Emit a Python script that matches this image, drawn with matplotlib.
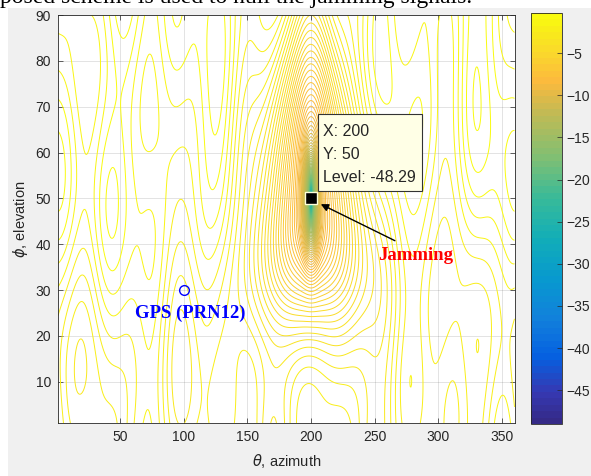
import numpy as np
import matplotlib
matplotlib.use('Agg')
import matplotlib.pyplot as plt
from matplotlib.colors import LinearSegmentedColormap, Normalize
from matplotlib.cm import ScalarMappable
from matplotlib.patches import Rectangle
from matplotlib.transforms import ScaledTranslation

plt.rcParams['font.family'] = ['Liberation Sans', 'DejaVu Sans']
plt.rcParams['mathtext.fontset'] = 'dejavusans'

# ---- data ----
theta = np.arange(1, 360.01, 0.5)      # azimuth, deg
phi = np.arange(1, 90.01, 0.5)         # elevation, deg

jam_theta, jam_phi, jam_level = 200, 50, -48.29
gps_theta, gps_phi = 100, 30

# broad dip around the jammer
broad_floor_db = -9.5
broad_w_theta = 54.0
broad_w_slope = 0.7
broad_w_phi_up = 55.0
broad_w_phi_down = 36.0
# deep, narrow notch at the jammer
notch_w_theta = 6.0
notch_w_phi = 12.0

# residual ripple of the pattern (dB, cycles/360 az, cycles/90 el, phase)
rip_amp = [0.38, 0.27, 0.24, 0.22, 0.06]
rip_ftheta = [5, 9, 3, 1, 11]
rip_fphi = [0.3, -0.5, 1.0, 1.5, 0.8]
rip_phase = [0.4, 1.3, 2.0, 0.7, 2.5]
horizon_loss = 1.1

levels = np.arange(-48.0, 0.0, 0.3)
clim = (-49.0, -0.25)
cbar_ticks = [-45, -40, -35, -30, -25, -20, -15, -10, -5]
x_ticks = [50, 100, 150, 200, 250, 300, 350]
y_ticks = [10, 20, 30, 40, 50, 60, 70, 80, 90]

# parula-like colormap
parula_anchors = [
    (0.208, 0.166, 0.529), (0.21, 0.22, 0.70), (0.02, 0.38, 0.88),
    (0.07, 0.50, 0.86), (0.03, 0.60, 0.81), (0.07, 0.68, 0.72),
    (0.22, 0.73, 0.60), (0.50, 0.75, 0.45), (0.76, 0.73, 0.33),
    (0.99, 0.73, 0.24), (0.979, 0.839, 0.177), (0.976, 0.983, 0.054),
]
parula_pos = [0.0, 0.07, 0.16, 0.25, 0.35, 0.45, 0.55, 0.65, 0.76, 0.84, 0.905, 1.0]
cmap = LinearSegmentedColormap.from_list('parula', list(zip(parula_pos, parula_anchors)), N=64)
norm = Normalize(*clim)


def dip_db(r2, floor_db):
    fl = 10 ** (floor_db / 10)
    return 10 * np.log10(fl + (1 - fl) * (1 - np.exp(-r2)))


# ---- field ----
T, P = np.meshgrid(theta, phi)
dT = T - jam_theta
dP = P - jam_phi
w_t = np.clip(broad_w_theta - broad_w_slope * dP, 10, None)
w_p = np.where(dP > 0, broad_w_phi_up, broad_w_phi_down)
r2_broad = (dT / w_t) ** 2 + np.abs(dP / w_p) ** 3
r2_notch = (dT / notch_w_theta) ** 2 + (dP / notch_w_phi) ** 2
null_db = dip_db(r2_broad, broad_floor_db) + dip_db(r2_notch, jam_level - broad_floor_db)

bg = np.zeros_like(T)
for a, ft, fp, ph in zip(rip_amp, rip_ftheta, rip_fphi, rip_phase):
    bg += a * np.cos(2 * np.pi * (ft * T / 360 + fp * P / 90) + ph)
bg -= horizon_loss * np.cos(np.radians(P)) ** 4
bg = bg - bg.max() - 0.25
Z = null_db + bg * (1 - np.exp(-r2_broad))

# ---- figure ----
fig = plt.figure(figsize=(5.91, 4.76), dpi=100, facecolor='white')
fig.patches.append(Rectangle((8 / 591, 0), 1, 1 - 8 / 476, transform=fig.transFigure,
                             facecolor='#f0f0f0', edgecolor='none', zorder=-10))
fig.text(0.0, 1 - 3.5 / 476, 'posed scheme is used to null the jamming signals.',
         family='Liberation Serif', fontsize=17, va='baseline', ha='left')

ax = fig.add_axes([58 / 591, 53 / 476, 456.5 / 591, 408 / 476])
ax.set_facecolor('white')
ax.contour(T, P, Z, levels=levels, cmap=cmap, norm=norm, linewidths=0.7)

ax.set_xlim(1, 360)
ax.set_ylim(1, 90)
ax.set_xticks(x_ticks)
ax.set_yticks(y_ticks)
ax.grid(True, color=(0.15, 0.15, 0.15), alpha=0.15, linewidth=0.6)
ax.tick_params(direction='in', length=3.5, width=0.5, top=True, right=True,
               labelsize=10, labelcolor=(0.15, 0.15, 0.15), color=(0.15, 0.15, 0.15), pad=5)
for s in ax.spines.values():
    s.set_color((0.15, 0.15, 0.15))
    s.set_linewidth(0.6)
ax.set_xlabel(r'$\theta$, azimuth', fontsize=10.5, color=(0.15, 0.15, 0.15), labelpad=6)
ax.set_ylabel(r'$\phi$, elevation', fontsize=10.5, color=(0.15, 0.15, 0.15), labelpad=4)

# GPS satellite
ax.plot(gps_theta, gps_phi, 'o', mfc='none', mec='blue', ms=7, mew=1)
ax.text(104.9, 25.0, 'GPS (PRN12)', color='blue', weight='bold',
        family='Liberation Serif', fontsize=13.5, ha='center', va='center')

# jammer + data tip (box placed in pixel offsets from the marker)
ax.plot(jam_theta, jam_phi, 's', color='black', mec=(1, 1, 0.85), ms=9, mew=1, zorder=11)
tip = fig.dpi_scale_trans + ScaledTranslation(jam_theta, jam_phi, ax.transData)
ax.add_patch(Rectangle((0.07, 0.07), 1.04, 0.77, transform=tip, facecolor=(1, 1, 0.9),
                       edgecolor=(0.2, 0.2, 0.2), lw=0.8, zorder=12, clip_on=False))
ax.text(0.12, 0.44, 'X: %d\nY: %d\nLevel: %.2f' % (jam_theta, jam_phi, jam_level),
        transform=tip, ha='left', va='center', fontsize=11.5, linespacing=1.64,
        color=(0.15, 0.15, 0.15), zorder=13)
ax.annotate('', xy=(205.7, 49.0), xytext=(267.9, 40.5),
            arrowprops=dict(arrowstyle='-|>', color='black', lw=1, mutation_scale=11),
            zorder=12)
ax.text(282.0, 37.6, 'Jamming', color='red', weight='bold',
        family='Liberation Serif', fontsize=13.5, ha='center', va='center')

# colorbar
cax = fig.add_axes([531 / 591, 52 / 476, 31 / 591, 411 / 476])
cb = fig.colorbar(ScalarMappable(norm=norm, cmap=cmap), cax=cax, ticks=cbar_ticks)
cb.outline.set_edgecolor((0.15, 0.15, 0.15))
cb.outline.set_linewidth(0.6)
cax.tick_params(direction='in', length=3.5, width=0.5, labelsize=10,
                labelcolor=(0.15, 0.15, 0.15), color=(0.15, 0.15, 0.15), pad=3)

fig.savefig('out.png', dpi=100, facecolor=fig.get_facecolor())
